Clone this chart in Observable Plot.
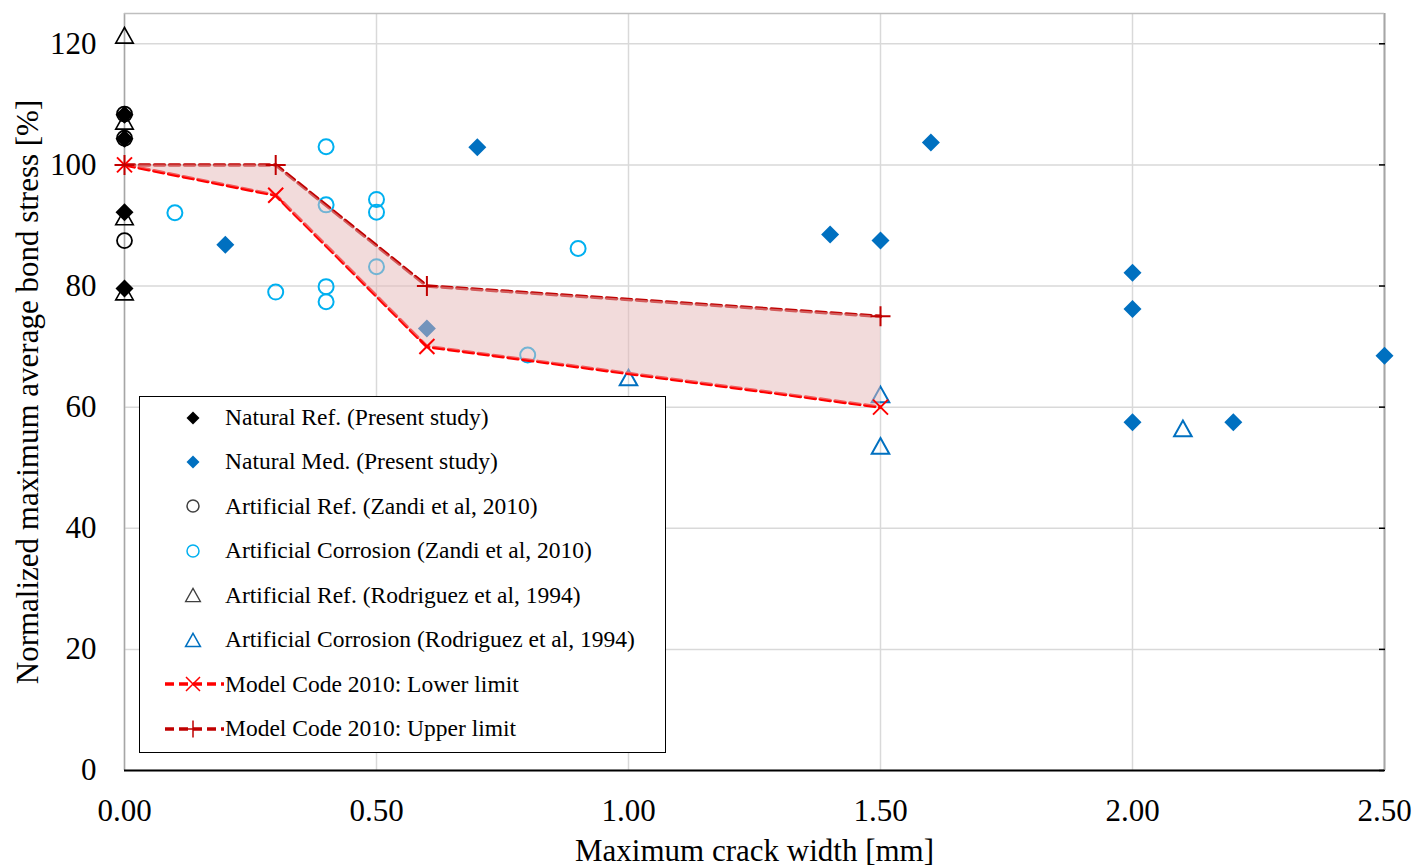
<!DOCTYPE html>
<html><head><meta charset="utf-8">
<script src="https://cdn.jsdelivr.net/npm/d3@7"></script>
<script src="https://cdn.jsdelivr.net/npm/@observablehq/plot@0.6"></script>
<style>
html,body{margin:0;padding:0;background:#fff;}
#wrap{position:relative;width:1414px;height:866px;font-family:"Liberation Serif","Times New Roman",serif;}
#legend{position:absolute;left:139px;top:396px;width:527px;height:357px;box-sizing:border-box;border:1.5px solid #000;background:#fff;}
.row{position:absolute;left:0;height:30px;display:flex;align-items:center;font-size:23.5px;white-space:nowrap;color:#000;}
.row svg{display:block;flex:none}
</style></head><body><div id="wrap"></div>
<script>
// ---- data ----
const natRefX = [0, 0, 0, 0];
const natRefY = [108.3, 104.3, 92.2, 79.6];
const natMedX = [0.2, 0.6, 0.7, 1.4, 1.5, 1.6, 2.0, 2.0, 2.0, 2.2, 2.5];
const natMedY = [86.8, 73.0, 102.9, 88.5, 87.5, 103.7, 82.2, 76.2, 57.5, 57.5, 68.5];
const zandiRefX = [0, 0, 0];
const zandiRefY = [108.4, 104.4, 87.5];
const zandiCorrX = [0.1, 0.3, 0.4, 0.4, 0.4, 0.4, 0.5, 0.5, 0.5, 0.8, 0.9];
const zandiCorrY = [92.1, 79.0, 103.0, 93.4, 79.9, 77.4, 94.3, 92.2, 83.2, 68.6, 86.2];
const rodRefX = [0, 0, 0, 0];
const rodRefY = [121.4, 107.2, 91.4, 79.0];
const rodCorrX = [1.0, 1.5, 1.5, 2.1];
const rodCorrY = [64.9, 62.1, 53.6, 56.5];
const mcX = [0, 0.3, 0.6, 1.5];
const mcLower = [100, 95, 70, 60];
const mcUpper = [100, 100, 80, 75];
const xTicks = [0, 0.5, 1.0, 1.5, 2.0, 2.5];
const yTicks = [0, 20, 40, 60, 80, 100, 120];
const seriesNames = [
  "Natural Ref. (Present study)",
  "Natural Med. (Present study)",
  "Artificial Ref. (Zandi et al, 2010)",
  "Artificial Corrosion (Zandi et al, 2010)",
  "Artificial Ref. (Rodriguez et al, 1994)",
  "Artificial Corrosion (Rodriguez et al, 1994)",
  "Model Code 2010: Lower limit",
  "Model Code 2010: Upper limit"
];
const xLabel = "Maximum crack width [mm]";
const yLabel = "Normalized maximum average bond stress [%]";

// ---- symbols ----
const rad = s => Math.sqrt(s / Math.PI);
const diaSym = {draw(c, s){const r = rad(s); c.moveTo(0,-r); c.lineTo(r,0); c.lineTo(0,r); c.lineTo(-r,0); c.closePath();}};
const triSym = {draw(c, s){const r = rad(s); const h = r*2.4, w = r*2.7; c.moveTo(0,-h/2); c.lineTo(w/2,h/2); c.lineTo(-w/2,h/2); c.closePath();}};
const plusSym = {draw(c, s){const r = rad(s); c.moveTo(-r,0); c.lineTo(r,0); c.moveTo(0,-r); c.lineTo(0,r);}};
const timesSym = {draw(c, s){const r = rad(s); c.moveTo(-r,-r); c.lineTo(r,r); c.moveTo(-r,r); c.lineTo(r,-r);}};

const pts = (xs, ys) => xs.map((x, i) => ({x, y: ys[i]}));
const mc = mcX.map((x, i) => ({x, lo: mcLower[i], up: mcUpper[i]}));

const cBlack = "#000000", cBlue = "#0070C0", cCyan = "#00B0F0", cRed = "#FF0000", cDark = "#C00000";
const serif = "'Liberation Serif','Times New Roman',serif";

const chart = Plot.plot({
  width: 1414, height: 866,
  marginLeft: 124, marginRight: 30, marginTop: 13, marginBottom: 96,
  style: {fontFamily: serif, fontSize: "31px", background: "transparent", color: "#000", overflow: "visible"},
  x: {domain: [0, 2.5]},
  y: {domain: [0, 125]},
  marks: [
    Plot.gridX(xTicks, {stroke: "#d9d9d9", strokeOpacity: 1, strokeWidth: 1.5}),
    Plot.gridY(yTicks, {stroke: "#d9d9d9", strokeOpacity: 1, strokeWidth: 1.5}),
    Plot.ruleX([0], {stroke: "#a6a6a6", strokeWidth: 1.5}),
    Plot.ruleX([2.5], {stroke: "#a6a6a6", strokeWidth: 2}),
    Plot.ruleY([125], {stroke: "#bfbfbf", strokeWidth: 1.5}),
    Plot.ruleY([0], {stroke: "#000", strokeWidth: 2}),
    Plot.axisX(xTicks, {tickSize: 0, tickPadding: 28, tickFormat: d3.format(".2f"), label: null, fontSize: 31}),
    Plot.axisY(yTicks, {tickSize: 0, tickPadding: 28, label: null, fontSize: 31}),
    Plot.axisY(yTicks, {anchor: "right", tickSize: 6, dx: -6, tickFormat: () => "", label: null, stroke: "#000", strokeWidth: 1.5}),
    // data points
    Plot.dot(pts(rodRefX, rodRefY), {x: "x", y: "y", symbol: triSym, r: 6.5, fill: "none", stroke: cBlack, strokeWidth: 1.6}),
    Plot.dot(pts(zandiRefX, zandiRefY), {x: "x", y: "y", symbol: "circle", r: 7.5, fill: "none", stroke: cBlack, strokeWidth: 1.8}),
    Plot.dot(pts(natRefX, natRefY), {x: "x", y: "y", symbol: diaSym, r: 9, fill: cBlack, stroke: "none"}),
    Plot.dot(pts(natMedX, natMedY), {x: "x", y: "y", symbol: diaSym, r: 9, fill: cBlue, stroke: "none"}),
    Plot.dot(pts(zandiCorrX, zandiCorrY), {x: "x", y: "y", symbol: "circle", r: 7.5, fill: "none", stroke: cCyan, strokeWidth: 2}),
    Plot.dot(pts(rodCorrX, rodCorrY), {x: "x", y: "y", symbol: triSym, r: 6.5, fill: "none", stroke: cBlue, strokeWidth: 2}),
    // Model Code band
    Plot.line(mc, {x: "x", y: "up", stroke: cDark, strokeWidth: 3.5, strokeDasharray: "10,5"}),
    Plot.line(mc, {x: "x", y: "lo", stroke: cRed, strokeWidth: 3.5, strokeDasharray: "10,5"}),
    Plot.areaY(mc, {x: "x", y1: "lo", y2: "up", fill: "#E6B8B7", fillOpacity: 0.5}),
    Plot.dot(mc, {x: "x", y: "lo", symbol: timesSym, r: 7.5, fill: "none", stroke: cRed, strokeWidth: 2}),
    Plot.dot(mc, {x: "x", y: "up", symbol: plusSym, r: 10, fill: "none", stroke: cDark, strokeWidth: 2}),
    // axis titles
    Plot.text([xLabel], {text: d => d, frameAnchor: "bottom", dy: 81, lineAnchor: "middle", textAnchor: "middle", fontSize: 31}),
    Plot.text([yLabel], {text: d => d, frameAnchor: "left", dx: -96, rotate: -90, lineAnchor: "middle", textAnchor: "middle", fontSize: 31})
  ]
});

const wrap = document.getElementById("wrap");
wrap.appendChild(chart);

// ---- legend ----
const legend = document.createElement("div");
legend.id = "legend";
wrap.appendChild(legend);
const symPath = (sym, r) => { const p = d3.path(); sym.draw(p, Math.PI * r * r); return p.toString(); };
const circPath = r => { const p = d3.path(); p.arc(0, 0, r, 0, 2 * Math.PI); return p.toString(); };
const legItems = [
  {d: symPath(diaSym, 6.5), fill: cBlack, stroke: "none"},
  {d: symPath(diaSym, 6.5), fill: cBlue, stroke: "none"},
  {d: circPath(6), fill: "none", stroke: "#404040", sw: 1.5},
  {d: circPath(6), fill: "none", stroke: cCyan, sw: 1.5},
  {d: symPath(triSym, 5.5), fill: "none", stroke: "#404040", sw: 1.3},
  {d: symPath(triSym, 5.5), fill: "none", stroke: cBlue, sw: 1.5},
  {d: symPath(timesSym, 7), fill: "none", stroke: cRed, sw: 1.5, line: cRed},
  {d: symPath(plusSym, 8.5), fill: "none", stroke: cDark, sw: 1.5, line: cDark}
];
seriesNames.forEach((name, i) => {
  const it = legItems[i];
  const row = document.createElement("div");
  row.className = "row";
  row.style.top = (22 + 44.45 * i - 15 - 1.5) + "px";
  const lineSvg = it.line ? `<line x1="25" x2="84" y1="15" y2="15" stroke="${it.line}" stroke-width="3.5" stroke-dasharray="9,5"/>` : "";
  row.innerHTML = `<svg width="85" height="30" viewBox="0 0 85 30">${lineSvg}<path transform="translate(53,15)" d="${it.d}" fill="${it.fill}" stroke="${it.stroke}" stroke-width="${it.sw || 0}"/></svg><span>${name}</span>`;
  legend.appendChild(row);
});
</script></body></html>
